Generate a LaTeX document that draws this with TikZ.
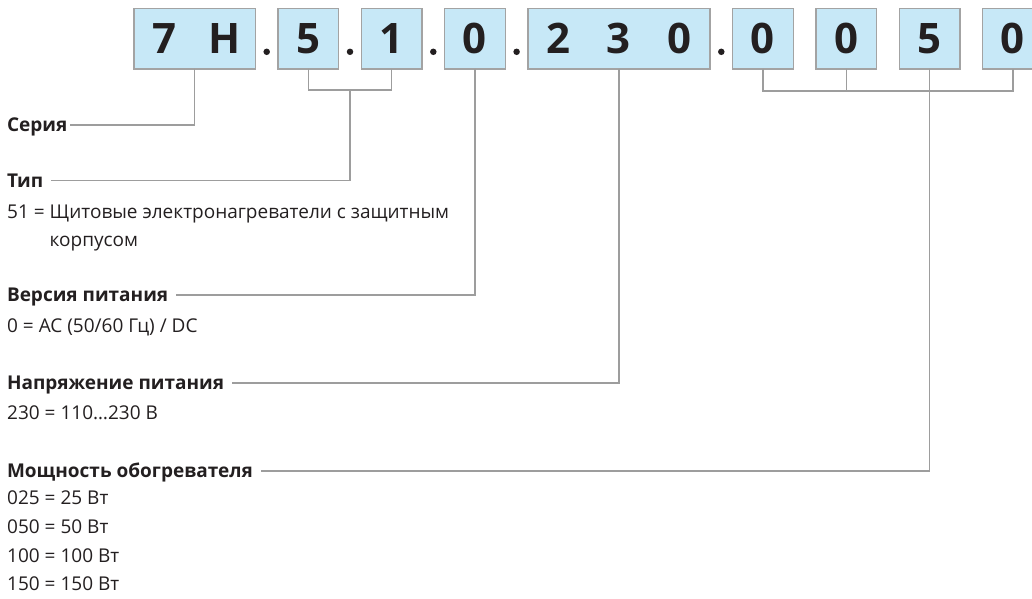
\documentclass[tikz,border=0pt]{standalone}
\usepackage{fontspec}
\setmainfont{Open Sans}
\usetikzlibrary{positioning,calc}
\definecolor{codeBlue} {HTML}{C7E8F7}
\definecolor{boxGray}  {HTML}{A3A3A3}
\definecolor{leadGray} {HTML}{9D9D9D}
\definecolor{inkBlack} {HTML}{231F20}
\newcommand\cell[1]{\makebox[60.7pt]{#1}}
\tikzset{
  codebox/.style={rectangle,draw=boxGray,fill=codeBlue,line width=1.2pt,inner sep=0pt,outer sep=0pt,
    minimum height=60.3pt,text=inkBlack,font=\fontsize{42}{42}\selectfont\bfseries},
  sepdot/.style={circle,fill=inkBlack,draw=none,inner sep=0pt,minimum size=6.5pt},
  lead/.style={draw=leadGray,line width=1.3pt},
  head/.style={anchor=west,inner sep=0pt,outer xsep=8pt,text height=13.3pt,text depth=0pt,
    text=inkBlack,font=\fontsize{19}{22}\selectfont\bfseries},
  desc/.style={anchor=base west,inner sep=0pt,align=left,text=inkBlack,
    font=\fontsize{19}{28.7}\selectfont},
}
\begin{document}
\begin{tikzpicture}[x=1pt,y=-1pt]
\useasboundingbox (0,0) rectangle (1032,598);
\clip (0,0) rectangle (1032,598);

% code boxes
\node[codebox] (bSer) at (194.7,38.8) {\cell{7}\cell{H}};
\node[codebox,right=22.6pt of bSer] (bT1) {\cell{5}};
\node[codebox,right=22.6pt of bT1] (bT2) {\cell{1}};
\node[codebox,right=22.6pt of bT2] (bVer) {\cell{0}};
\node[codebox,right=22.6pt of bVer] (bVolt) {\cell{2}\cell{3}\cell{0}};
\node[codebox,right=22.6pt of bVolt] (bP1) {\cell{0}};
\node[codebox,right=22.6pt of bP1] (bP2) {\cell{0}};
\node[codebox,right=22.6pt of bP2] (bP3) {\cell{5}};
\node[codebox,right=22.6pt of bP3] (bP4) {\cell{0}};

\node[sepdot] (s1) at ($(bSer.east)!.5!(bT1.west)+(0,13)$) {};
\node[sepdot] (s2) at ($(bT1.east)!.5!(bT2.west)+(0,13)$) {};
\node[sepdot] (s3) at ($(bT2.east)!.5!(bVer.west)+(0,13)$) {};
\node[sepdot] (s4) at ($(bVer.east)!.5!(bVolt.west)+(0,13)$) {};
\node[sepdot] (s5) at ($(bVolt.east)!.5!(bP1.west)+(0,13)$) {};

% labels (multi-line texts sit on their last baseline)
\node[head,outer xsep=3pt] (serie) at (4,125) {Серия};
\node[head] (tip) at (-1,180.5) {Тип};
\node[desc] (tipdesc) at (7,246.7) {51 = Щитовые электронагреватели с защитным\\\phantom{51 = }корпусом};
\node[head] (vers) at (-1,295) {Версия питания};
\node[desc] (versdesc) at (7,332) {0 = AC (50/60 Гц) / DC};
\node[head] (volt) at (-1,383) {Напряжение питания};
\node[desc] (voltdesc) at (7,419) {230 = 110…230 В};
\node[head] (power) at (-1,471) {Мощность обогревателя};
\node[desc] (powerdesc) at (7,590.7) {025 = 25 Вт\\050 = 50 Вт\\100 = 100 Вт\\150 = 150 Вт};

% leads
\coordinate (jT) at ($(bT1.south)!.5!(bT2.south)+(0,21)$);
\draw[lead] (bSer.south) |- (serie.east);
\draw[lead] (bT1.south) |- (jT) -| (bT2.south);
\draw[lead] (jT) |- (tip.east);
\draw[lead] (bVer.south) |- (vers.east);
\draw[lead] (bVolt.south) |- (volt.east);
\draw[lead] (bP1.south) -- ++(0,22) -| (bP4.south);
\draw[lead] (bP2.south) -- ++(0,22);
\draw[lead] (bP3.south) |- (power.east);

\end{tikzpicture}
\end{document}
